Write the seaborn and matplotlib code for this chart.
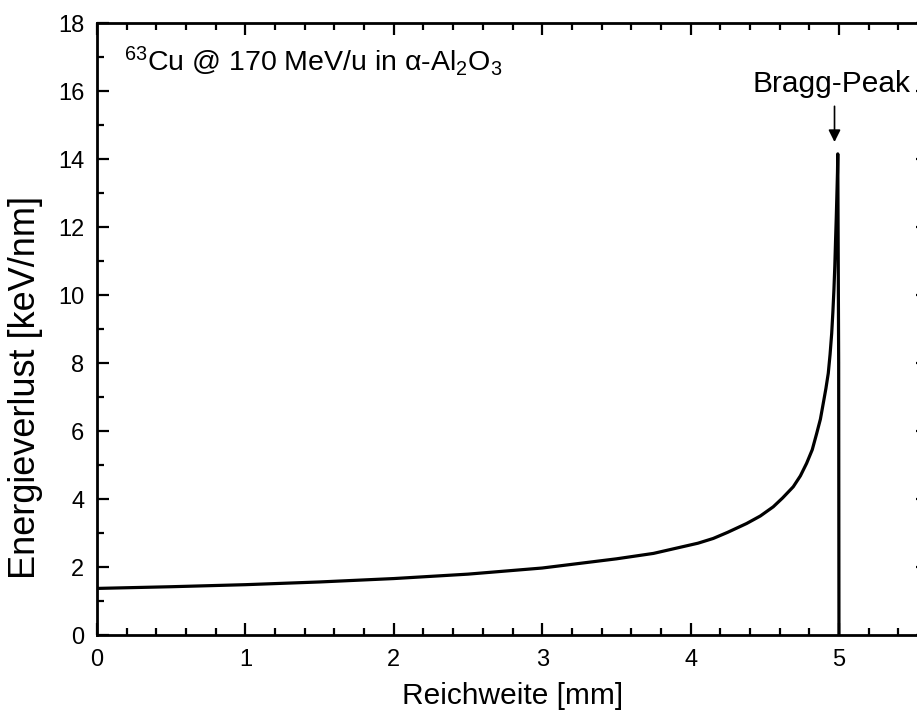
import matplotlib
matplotlib.use("Agg")
import matplotlib.pyplot as plt
import seaborn as sns
import pandas as pd
from matplotlib.ticker import MultipleLocator

# Stopping power of 63Cu ions (170 MeV/u) in sapphire versus penetration depth
reichweite_mm = [0.0, 0.5, 1.0, 1.5, 2.0, 2.5, 3.0, 3.5, 3.75, 3.93, 4.05,
                 4.153, 4.25, 4.378, 4.47, 4.557, 4.62, 4.692, 4.74, 4.782,
                 4.82, 4.85, 4.875, 4.894, 4.912, 4.928, 4.94, 4.951, 4.959,
                 4.966, 4.972, 4.977, 4.982, 4.987, 4.990, 4.992, 4.998, 5.0]
energieverlust_kev_nm = [1.37, 1.42, 1.48, 1.56, 1.66, 1.79, 1.97, 2.24, 2.40,
                         2.58, 2.70, 2.84, 3.02, 3.28, 3.50, 3.77, 4.03, 4.36,
                         4.68, 5.05, 5.45, 5.93, 6.35, 6.81, 7.25, 7.70, 8.25,
                         8.87, 9.50, 10.15, 10.85, 11.6, 12.3, 13.1, 13.6,
                         14.15, 8.0, 0.0]

x_ticks = [0, 1, 2, 3, 4, 5]
y_ticks = [0, 2, 4, 6, 8, 10, 12, 14, 16, 18]

bragg_x = 4.97
bragg_y = 14.15

sns.set_theme(style="ticks")
plt.rcParams["font.family"] = ["Liberation Sans", "DejaVu Sans"]
plt.rcParams["mathtext.fontset"] = "custom"
plt.rcParams["mathtext.rm"] = "Liberation Sans"
plt.rcParams["mathtext.it"] = "Liberation Sans:italic"
plt.rcParams["mathtext.default"] = "rm"
for key in ["text.color", "axes.labelcolor", "xtick.color", "ytick.color",
            "xtick.labelcolor", "ytick.labelcolor", "axes.edgecolor"]:
    plt.rcParams[key] = "black"

df = pd.DataFrame({"Reichweite": reichweite_mm, "Energieverlust": energieverlust_kev_nm})

fig = plt.figure(figsize=(9.17, 7.13), dpi=100)
ax = fig.add_axes([97 / 917, 78 / 713, 831 / 917, 612 / 713])

sns.lineplot(data=df, x="Reichweite", y="Energieverlust", color="black",
             linewidth=2.3, estimator=None, sort=False, ax=ax)

ax.set_xlim(0, 5.6)
ax.set_ylim(0, 18)
ax.set_xticks(x_ticks)
ax.set_yticks(y_ticks)
ax.xaxis.set_minor_locator(MultipleLocator(0.2))
ax.yaxis.set_minor_locator(MultipleLocator(1))

for side in ["left", "right", "top", "bottom"]:
    ax.spines[side].set_visible(True)
    ax.spines[side].set_linewidth(2.0)
    ax.spines[side].set_color("black")

ax.tick_params(which="both", direction="in", top=True, right=True,
               color="black", labelcolor="black", width=1.6)
ax.tick_params(which="major", length=8.5, labelsize=17, pad=9)
ax.tick_params(which="minor", length=5)
ax.tick_params(axis="x", which="major", pad=10)

ax.set_xlabel("Reichweite [mm]", fontsize=21.5, labelpad=8)
ax.set_ylabel("Energieverlust [keV/nm]", fontsize=26)
ax.yaxis.set_label_coords(-0.065, 0.405)

ax.text(0.18, 16.6, r"$^{63}$Cu @ 170 MeV/u in α-Al$_{2}$O$_{3}$",
        fontsize=20.5, va="baseline", ha="left", color="black")

ax.text(4.42, 15.97, "Bragg-Peak", fontsize=21.5, va="baseline", ha="left",
        color="black")
ax.annotate("", xy=(bragg_x, bragg_y + 0.35), xytext=(bragg_x, 15.55),
            arrowprops=dict(arrowstyle="-|>", color="black", lw=1.2,
                            mutation_scale=18, shrinkA=0, shrinkB=0))

fig.savefig("out.png", dpi=100)
